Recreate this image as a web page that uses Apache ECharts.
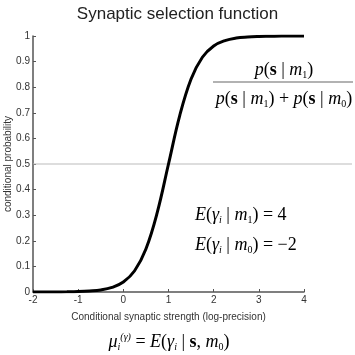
<!DOCTYPE html>
<html>
<head>
<meta charset="utf-8">
<script src="https://cdn.jsdelivr.net/npm/echarts@6/dist/echarts.min.js"></script>
<style>
  html, body { margin: 0; padding: 0; background: #fff; }
  #main { width: 355px; height: 355px; }
</style>
</head>
<body>
<div id="main"></div>
<script>
  // strength on log-precision scale
  var strength = [-2, -1.75, -1.5, -1.25, -1, -0.75, -0.5, -0.25, 0, 0.25, 0.5, 0.75, 1,
    1.25, 1.5, 1.75, 2, 2.25, 2.5, 2.75, 3, 3.25, 3.5, 3.75, 4];
  var probability = [0.0001, 0.0002, 0.0003, 0.0007, 0.0017, 0.004, 0.008, 0.018, 0.039, 0.083, 0.168, 0.31, 0.5,
    0.69, 0.832, 0.917, 0.961, 0.982, 0.992, 0.996, 0.998, 0.999, 1, 1, 1];
  var xTicks = [-2, -1, 0, 1, 2, 3, 4];
  var halfLine = 0.5;

  var serif = '"Liberation Serif", "DejaVu Serif", serif';
  var sans = '"Liberation Sans", Arial, sans-serif';
  var mathRich = {
    i: { fontFamily: serif, fontStyle: 'italic', fontSize: 18, color: '#222' },
    r: { fontFamily: serif, fontSize: 18, color: '#222' },
    b: { fontFamily: serif, fontWeight: 'bold', fontSize: 18, color: '#222' },
    sub: { fontFamily: serif, fontSize: 10, color: '#222', padding: [10, 0, 0, 0] },
    subi: { fontFamily: serif, fontStyle: 'italic', fontSize: 10, color: '#222', padding: [10, 0, 0, 0] },
    sup: { fontFamily: serif, fontStyle: 'italic', fontSize: 10, color: '#222', padding: [0, 0, 9, 0] }
  };

  var chart = echarts.init(document.getElementById('main'));
  var option = {
    animation: false,
    title: {
      text: 'Synaptic selection function',
      left: 'center',
      top: 1,
      textStyle: { fontFamily: sans, fontSize: 17, fontWeight: 'normal', color: '#222' }
    },
    grid: { left: 33, right: 51, top: 36, bottom: 63, containLabel: false, outerBoundsMode: 'none' },
    xAxis: {
      type: 'value',
      min: -2, max: 4, interval: 1,
      name: 'Conditional synaptic strength (log-precision)',
      nameLocation: 'middle',
      nameGap: 20,
      nameMoveOverlap: false,
      nameTextStyle: { fontFamily: sans, fontSize: 10, color: '#333' },
      axisLine: { onZero: false, lineStyle: { color: '#555', width: 1.5 } },
      axisTick: { inside: true, length: 3, lineStyle: { color: '#555' } },
      axisLabel: { fontFamily: sans, fontSize: 10, color: '#333', margin: 3,
        customValues: xTicks },
      splitLine: { show: false }
    },
    yAxis: {
      type: 'value',
      min: 0, max: 1, interval: 0.1,
      name: 'conditional probability',
      nameLocation: 'middle',
      nameGap: 20,
      nameMoveOverlap: false,
      nameTextStyle: { fontFamily: sans, fontSize: 10, color: '#333' },
      axisLine: { show: true, onZero: false, lineStyle: { color: '#555', width: 1.5 } },
      axisTick: { show: true, inside: true, length: 3, lineStyle: { color: '#555' } },
      axisLabel: { fontFamily: sans, fontSize: 10, color: '#333', margin: 3,
        formatter: function (v) { return String(+v.toFixed(1)); } },
      splitLine: { show: false }
    },
    series: [{
      type: 'line',
      data: strength.map(function (s, k) { return [s, probability[k]]; }),
      smooth: 0.4,
      showSymbol: false,
      lineStyle: { color: '#000', width: 3 },
      z: 5
    }],
    graphic: []
  };
  chart.setOption(option);

  // grey reference line at 0.5 runs on past the axis end
  var p0 = chart.convertToPixel({ gridIndex: 0 }, [-2, halfLine]);
  var graphic = [
    { type: 'line', shape: { x1: p0[0], y1: p0[1], x2: 352, y2: p0[1] },
      style: { stroke: '#bbb', lineWidth: 1.2 }, z: 1 },
    { type: 'text', x: 284, y: 70, style: {
      text: '{i|p}{r|(}{b|s}{r| | }{i|m}{sub|1}{r|)}', rich: mathRich,
      align: 'center', verticalAlign: 'middle' } },
    { type: 'line', shape: { x1: 213, y1: 82, x2: 353, y2: 82 },
      style: { stroke: '#666', lineWidth: 1.2 } },
    { type: 'text', x: 284, y: 99, style: {
      text: '{i|p}{r|(}{b|s}{r| | }{i|m}{sub|1}{r|) + }{i|p}{r|(}{b|s}{r| | }{i|m}{sub|0}{r|)}', rich: mathRich,
      align: 'center', verticalAlign: 'middle' } },
    { type: 'text', x: 195, y: 215, style: {
      text: '{i|E}{r|(}{i|γ}{subi|i}{r| | }{i|m}{sub|1}{r|) = 4}', rich: mathRich,
      align: 'left', verticalAlign: 'middle' } },
    { type: 'text', x: 195, y: 245, style: {
      text: '{i|E}{r|(}{i|γ}{subi|i}{r| | }{i|m}{sub|0}{r|) = −2}', rich: mathRich,
      align: 'left', verticalAlign: 'middle' } },
    { type: 'text', x: 169, y: 342, style: {
      text: '{i|μ}{subi|i}{sup|(γ)}{r| = }{i|E}{r|(}{i|γ}{subi|i}{r| | }{b|s}{r|, }{i|m}{sub|0}{r|)}', rich: mathRich,
      align: 'center', verticalAlign: 'middle' } }
  ];
  chart.setOption({ graphic: graphic });
</script>
</body>
</html>
